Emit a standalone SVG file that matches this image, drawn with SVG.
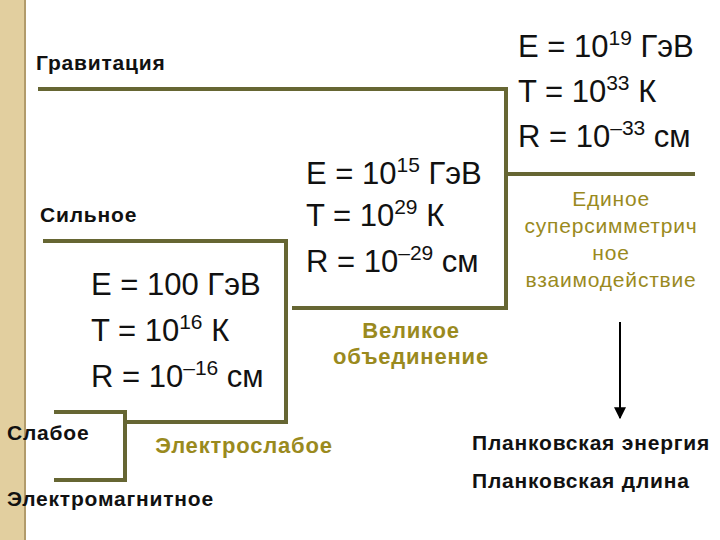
<svg xmlns="http://www.w3.org/2000/svg" width="720" height="540" viewBox="0 0 720 540">
<style>
.c{fill:none;stroke:#666633;stroke-width:4}
.b{font-family:"Liberation Sans",Arial,sans-serif;font-weight:bold;font-size:21px;fill:#111;letter-spacing:0.8px}
.n{font-family:"Liberation Sans",Arial,sans-serif;font-size:31px;fill:#111}
.s{font-size:21px}
.o{font-family:"Liberation Sans",Arial,sans-serif;font-weight:bold;font-size:22px;fill:#9a8a1e;text-anchor:middle;letter-spacing:0.8px}
.y{font-family:"Liberation Sans",Arial,sans-serif;font-size:21px;fill:#9a8a1e;text-anchor:middle;letter-spacing:0.8px}
</style>
<defs><marker id="a" viewBox="0 0 10 10" refX="9" refY="5" markerWidth="6" markerHeight="6" orient="auto"><path d="M0,0L10,5L0,10z" fill="#000"/></marker></defs>
<rect width="720" height="540" fill="#fff"/>
<rect x="0" y="0" width="26" height="540" fill="#e2cf9f"/>
<line x1="25" y1="0" x2="25" y2="540" stroke="#a08a5a" stroke-width="1.5"/>
<g id="connectors">
<polyline class="c" points="38,89 506,89 506,308 292,308"/>
<line class="c" x1="506" y1="174" x2="695" y2="174"/>
<polyline class="c" points="43,241 286,241 286,422 125,422"/>
<polyline class="c" points="54,412 125,412 125,480 54,480"/>
<line x1="620" y1="322" x2="620" y2="418" stroke="#000" stroke-width="2" marker-end="url(#a)"/>
</g>
<g id="gravity"><text class="b" x="36" y="70">Гравитация</text></g>
<g id="strong"><text class="b" x="40" y="222">Сильное</text></g>
<g id="weak"><text class="b" x="7" y="440">Слабое</text></g>
<g id="em"><text class="b" x="7" y="506">Электромагнитное</text></g>
<g id="ew-params">
<text class="n" x="91" y="295">E = 100 ГэВ</text>
<text class="n" x="91" y="341">T = 10<tspan class="s" dy="-12">16</tspan><tspan dy="12"> К</tspan></text>
<text class="n" x="91" y="387">R = 10<tspan class="s" dy="-12">–16</tspan><tspan dy="12"> см</tspan></text>
</g>
<g id="gu-params">
<text class="n" x="306" y="184">E = 10<tspan class="s" dy="-12">15</tspan><tspan dy="12"> ГэВ</tspan></text>
<text class="n" x="306" y="226">T = 10<tspan class="s" dy="-12">29</tspan><tspan dy="12"> К</tspan></text>
<text class="n" x="306" y="272">R = 10<tspan class="s" dy="-12">–29</tspan><tspan dy="12"> см</tspan></text>
</g>
<g id="su-params">
<text class="n" x="518" y="57">E = 10<tspan class="s" dy="-12">19</tspan><tspan dy="12"> ГэВ</tspan></text>
<text class="n" x="518" y="102">T = 10<tspan class="s" dy="-12">33</tspan><tspan dy="12"> К</tspan></text>
<text class="n" x="518" y="147">R = 10<tspan class="s" dy="-12">–33</tspan><tspan dy="12"> см</tspan></text>
</g>
<g id="ew"><text class="o" x="244" y="453">Электрослабое</text></g>
<g id="gu"><text class="o" x="411" y="338">Великое</text><text class="o" x="411" y="364">объединение</text></g>
<g id="su">
<text class="y" x="611" y="206">Единое</text>
<text class="y" x="611" y="233">суперсимметрич</text>
<text class="y" x="611" y="260">ное</text>
<text class="y" x="611" y="287">взаимодействие</text>
</g>
<g id="planck"><text class="b" x="472" y="450" font-size="18">Планковская энергия</text><text class="b" x="472" y="488" font-size="18">Планковская длина</text></g>
</svg>
